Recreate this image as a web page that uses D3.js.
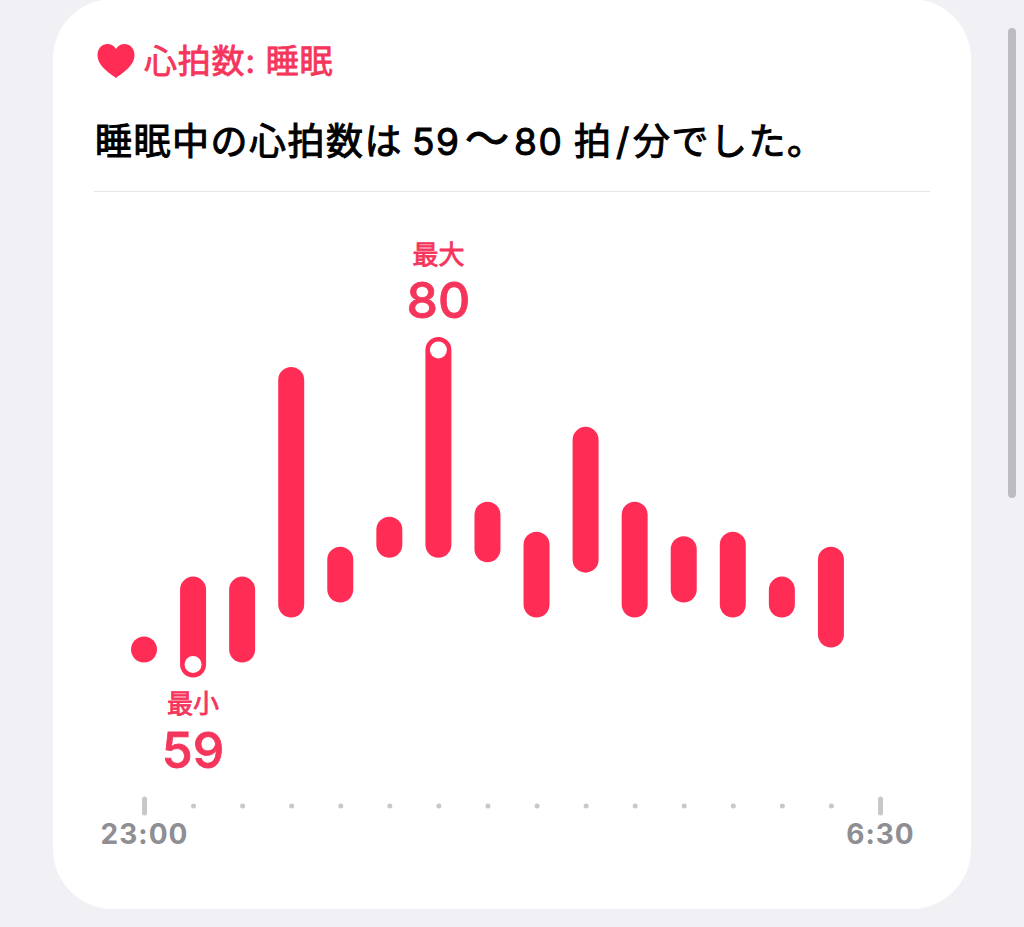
<!DOCTYPE html>
<html lang="ja">
<head>
<meta charset="utf-8">
<script src="https://cdn.jsdelivr.net/npm/d3@7"></script>
<style>
  html, body { margin: 0; padding: 0; background: #f0f0f5; overflow: hidden; }
  text { font-family: "Inter", "Noto Sans CJK JP", sans-serif; }
</style>
</head>
<body>
<div id="chart"></div>
<script>
// half hour slots from 23:00 to 6:30
const times = ["23:00", "23:30", "0:00", "0:30", "1:00", "1:30", "2:00", "2:30",
               "3:00", "3:30", "4:00", "4:30", "5:00", "5:30", "6:00", "6:30"];
const endLabels = ["23:00", "6:30"];

// heart rate range per slot (the last slot has no bar)
const slots = times.slice(0, 15);
const lows  = [60, 59, 60, 63, 64, 67, 67, 66.7, 63, 66, 63, 64, 63, 63, 61];
const highs = [60, 64, 64, 78, 66, 68, 80, 69, 67, 74, 69, 66.7, 67, 64, 66];

const red = "#ff2d55";
const pinkText = "#f5355b";

const svg = d3.select("#chart").append("svg")
    .attr("width", 1024)
    .attr("height", 927)
    .style("display", "block");

// card
svg.append("rect")
    .attr("x", 53).attr("y", -1)
    .attr("width", 918).attr("height", 910)
    .attr("rx", 60)
    .attr("fill", "#fff");

// scrollbar
svg.append("rect")
    .attr("x", 1008).attr("y", 28)
    .attr("width", 8).attr("height", 470)
    .attr("rx", 4)
    .attr("fill", "#bcbcc1");

// heart icon
svg.append("path")
    .attr("transform", "translate(97.5,44)")
    .attr("d", "M18.5 34 C14 30 0 23 0 11 C0 4.5 4.5 0 10 0 C13.5 0 16.5 1.8 18.5 5 C20.5 1.8 23.5 0 27 0 C32.5 0 37 4.5 37 11 C37 23 23 30 18.5 34 Z")
    .attr("fill", red);

// no medium weight to hand for the CJK font, a thin outline thickens the regular one
svg.append("text")
    .attr("x", 144).attr("y", 73)
    .attr("font-size", 33).attr("font-weight", 400)
    .attr("letter-spacing", 0.8)
    .attr("fill", pinkText)
    .attr("stroke", pinkText).attr("stroke-width", 0.8)
    .text("心拍数: 睡眠");

// the sentence is set in pieces so the gaps round the numbers line up
const titleParts = [
    { text: "睡眠中の心拍数は", x: 95, size: 37 },
    { text: "59", x: 412, size: 37 },
    { text: "〜", x: 465, size: 44 },
    { text: "80", x: 514, size: 37 },
    { text: "拍", x: 574, size: 37 },
    { text: "/", x: 616, size: 37 },
    { text: "分でした。", x: 633, size: 37 }
];

svg.append("g").selectAll("text")
    .data(titleParts)
    .enter().append("text")
    .attr("x", d => d.x)
    .attr("y", 155)
    .attr("font-size", d => d.size).attr("font-weight", 400)
    .attr("letter-spacing", 1.5)
    .attr("fill", "#000")
    .attr("stroke", "#000").attr("stroke-width", 1)
    .text(d => d.text);

svg.append("line")
    .attr("x1", 94).attr("x2", 930)
    .attr("y1", 191.5).attr("y2", 191.5)
    .attr("stroke", "#e5e5ea");

// scales
const x = d3.scalePoint().domain(times).range([144, 880]);
const y = d3.scaleLinear().domain([59, 80]).range([664.5, 350]);

// bars, a zero length round capped line gives the dot
const barWidth = 26;
svg.append("g").selectAll("line")
    .data(slots)
    .enter().append("line")
    .attr("x1", d => x(d))
    .attr("x2", d => x(d))
    .attr("y1", (d, i) => y(lows[i]))
    .attr("y2", (d, i) => y(highs[i]))
    .attr("stroke", red)
    .attr("stroke-width", barWidth)
    .attr("stroke-linecap", "round");

// min and max markers
const minIdx = d3.minIndex(lows);
const maxIdx = d3.maxIndex(highs);
const markers = [
    { name: "最小", slot: slots[minIdx], value: lows[minIdx], labelY: 713, valueY: 768 },
    { name: "最大", slot: slots[maxIdx], value: highs[maxIdx], labelY: 264, valueY: 318 }
];

svg.append("g").selectAll("circle")
    .data(markers)
    .enter().append("circle")
    .attr("cx", d => x(d.slot))
    .attr("cy", d => y(d.value))
    .attr("r", 8.5)
    .attr("fill", "#fff");

svg.append("g").selectAll("text")
    .data(markers)
    .enter().append("text")
    .attr("x", d => x(d.slot))
    .attr("y", d => d.labelY)
    .attr("text-anchor", "middle")
    .attr("font-size", 26).attr("font-weight", 400)
    .attr("fill", pinkText)
    .attr("stroke", pinkText).attr("stroke-width", 0.8)
    .text(d => d.name);

svg.append("g").selectAll("text")
    .data(markers)
    .enter().append("text")
    .attr("x", d => x(d.slot))
    .attr("y", d => d.valueY)
    .attr("text-anchor", "middle")
    .attr("font-size", 50).attr("font-weight", 500)
    .attr("fill", pinkText)
    .attr("stroke", pinkText).attr("stroke-width", 0.8)
    .text(d => d.value);

// time axis
const axis = svg.append("g")
    .attr("transform", "translate(0,806)")
    .call(d3.axisBottom(x)
        .tickSize(0)
        .tickPadding(18)
        .tickFormat(d => endLabels.includes(d) ? d : ""));

axis.select(".domain").remove();

axis.selectAll(".tick line")
    .attr("y1", d => endLabels.includes(d) ? -7 : 0)
    .attr("y2", d => endLabels.includes(d) ? 7 : 0)
    .attr("stroke", "#c7c7cc")
    .attr("stroke-width", 5)
    .attr("stroke-linecap", "round");

axis.selectAll(".tick text")
    .attr("font-family", null)
    .attr("font-size", 28)
    .attr("font-weight", 700)
    .attr("letter-spacing", 1)
    .attr("fill", "#8e8e93");
</script>
</body>
</html>
